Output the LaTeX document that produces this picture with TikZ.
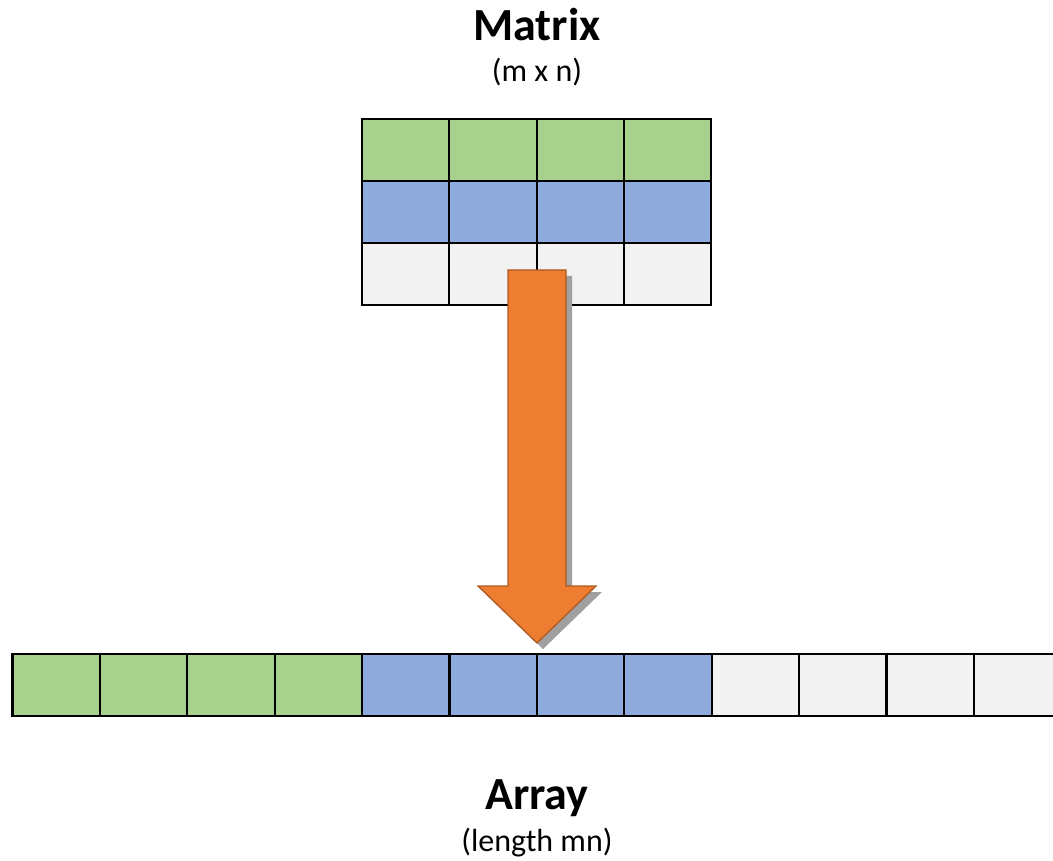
\documentclass[tikz,border=0pt]{standalone}
\usepackage{fontspec}
\setmainfont{Carlito}
\definecolor{cgreen}{HTML}{A9D18E}
\definecolor{cblue}{HTML}{8FAADC}
\definecolor{cgray}{HTML}{F2F2F2}
\definecolor{corange}{HTML}{ED7D31}
\definecolor{cborder}{HTML}{AE5A21}
\definecolor{cshadow}{HTML}{A0A0A0}
\begin{document}
\begin{tikzpicture}[x=1pt,y=-1pt,
  cell/.style={draw=black,line width=2.2pt,minimum width=87.4pt,minimum height=62pt,inner sep=0pt,outer sep=0pt,anchor=north west},
  title/.style={font=\bfseries\fontsize{46}{50}\selectfont,anchor=base,inner sep=0pt},
  sub/.style={font=\fontsize{32}{36}\selectfont,anchor=base,inner sep=0pt}]
\useasboundingbox (0,0) rectangle (1053,861);
% matrix
\foreach \c in {0,1,2,3}{
  \node[cell,fill=cgreen] (g\c) at ({362+87.3*\c},119) {};
  \node[cell,fill=cblue]  (b\c) at ({362+87.3*\c},181) {};
  \node[cell,fill=cgray]  (w\c) at ({362+87.3*\c},243) {};
}
% array
\begin{scope}
\clip (0,0) rectangle (1053,861);
\foreach \c in {0,1,2,3}{
  \node[cell,fill=cgreen] (ag\c) at ({12.5+87.4*\c},654) {};
  \node[cell,fill=cblue]  (ab\c) at ({12.5+87.4*(\c+4)},654) {};
  \node[cell,fill=cgray]  (aw\c) at ({12.5+87.4*(\c+8)},654) {};
}
\end{scope}
% block arrow
\coordinate (tl) at (508,270);
\coordinate (tr) at (566,270);
\coordinate (br) at (566,586);
\coordinate (hr) at (596,586);
\coordinate (tip) at (537,643);
\coordinate (hl) at (478,586);
\coordinate (bl) at (508,586);
\begin{scope}[transform canvas={shift={(6pt,-6pt)}}]
\fill[cshadow] (tl) -- (tr) -- (br) -- (hr) -- (tip) -- (hl) -- (bl) -- cycle;
\end{scope}
\draw[fill=corange,draw=cborder,line width=1.3pt,line join=miter] (tl) -- (tr) -- (br) -- (hr) -- (tip) -- (hl) -- (bl) -- cycle;
% texts
\node[title] (mt) at (537,41) {Matrix};
\node[sub] (ms) at (537,82) {(m x n)};
\node[title] (at) at (537,809) {Array};
\node[sub] (as) at (537,851) {(length mn)};
\end{tikzpicture}
\end{document}
